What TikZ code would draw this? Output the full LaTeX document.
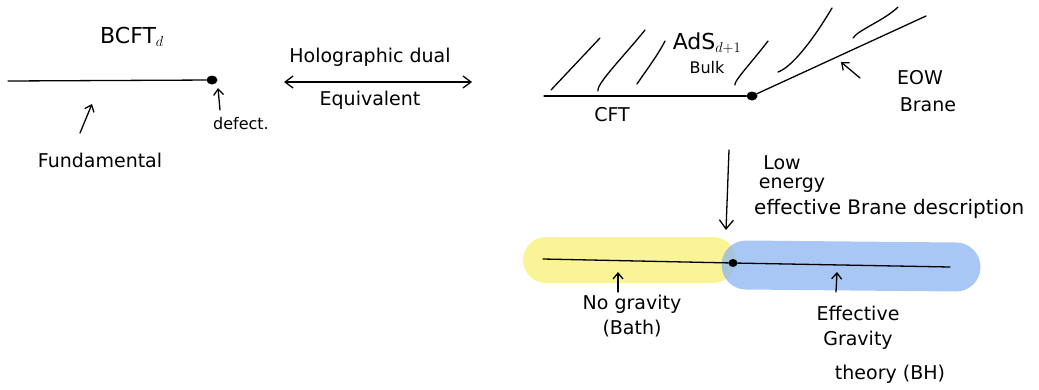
\documentclass[tikz,border=0pt]{standalone}
\usepackage{fontspec}
\setmainfont{DejaVu Sans}
\usetikzlibrary{arrows.meta,shapes.geometric}
\definecolor{bandyellow}{RGB}{250,244,150}
\definecolor{bandblue}{RGB}{140,180,240}
\tikzset{
  lab/.style={font=\fontsize{19}{22}\selectfont, inner sep=1pt},
  biglab/.style={font=\fontsize{22}{25}\selectfont, inner sep=1pt},
  smalllab/.style={font=\fontsize{16}{18}\selectfont, inner sep=1pt},
  pen/.style={line width=1.3pt, line cap=round},
  dotnode/.style={ellipse, fill=black, inner sep=0pt, minimum width=11pt, minimum height=9pt},
  tip/.style={-{Straight Barb[length=6pt,width=10pt]}},
  band/.style={line width=46pt, line cap=round},
}
\begin{document}
\begin{tikzpicture}[x=1pt,y=-1pt]
\useasboundingbox (0,0) rectangle (1039,389);
% ---------- left: BCFT ----------
\coordinate (l0) at (8,81);
\node[dotnode] (ldot) at (212,80) {};
\draw[pen] (l0) -- (ldot);
\node[biglab] (bcft) at (132,37) {BCFT$_{d}$};
\node[lab] (fund) at (100,160) {Fundamental};
\coordinate (fa0) at (80,133);
\coordinate (fa1) at (92,104);
\draw[pen,tip] (fa0) -- (fa1);
\node[smalllab] (defect) at (241,124) {defect.};
\coordinate (da0) at (220,110);
\coordinate (da1) at (218,88);
\draw[pen,tip] (da0) -- (da1);
% ---------- duality arrow ----------
\coordinate (h0) at (284,82);
\coordinate (h1) at (472,82);
\draw[pen,{Straight Barb[length=8pt,width=12pt]}-{Straight Barb[length=8pt,width=12pt]}] (h0) -- (h1);
\node[lab] (holo) at (370,57) {Holographic dual};
\node[lab] (equiv) at (370,100) {Equivalent};
% ---------- right top: AdS ----------
\coordinate (c0) at (544,96);
\node[dotnode] (rdot) at (752,96) {};
\coordinate (b1) at (926,16);
\draw[pen] (c0) -- (rdot);
\draw[pen] (rdot) -- (b1);
\coordinate (s1a) at (551,90); \coordinate (s1b) at (600,38);
\coordinate (s2a) at (598,91); \coordinate (s2b) at (645,30);
\coordinate (s3a) at (637,84); \coordinate (s3b) at (665,41);
\coordinate (s4a) at (735,85); \coordinate (s4b) at (768,41);
\coordinate (s5a) at (778,72); \coordinate (s5b) at (832,8);
\coordinate (s6a) at (853,38); \coordinate (s6b) at (898,7);
\draw[pen] (s1a) -- (s1b);
\draw[pen] (s2a) .. controls (596,84) and (625,55) .. (s2b);
\draw[pen] (s3a) .. controls (645,72) and (658,55) .. (s3b);
\draw[pen] (s4a) .. controls (733,82) and (752,62) .. (s4b);
\draw[pen] (s5a) .. controls (790,68) and (810,45) .. (s5b);
\draw[pen] (s6a) .. controls (858,30) and (885,20) .. (s6b);
\node[biglab] (ads) at (707,43) {AdS$_{d+1}$};
\node[smalllab] (bulk) at (707,68) {Bulk};
\node[lab] (cft) at (612,115) {CFT};
\coordinate (ea0) at (860,78);
\coordinate (ea1) at (841,62);
\draw[pen,tip] (ea0) -- (ea1);
\node[lab] (eow) at (920,78) {EOW};
\node[lab] (brane) at (928,105) {Brane};
% ---------- down arrow ----------
\coordinate (d0) at (729,150);
\coordinate (d1) at (726,230);
\draw[pen,{Straight Barb[length=9pt,width=14pt]}-] (d1) -- (d0);
\node[lab] (low) at (782,163) {Low};
\node[lab] (energy) at (792,185) {energy};
\node[lab,anchor=west,font=\fontsize{20}{23}\selectfont] (ebd) at (753,209) {effective Brane description};
% ---------- bottom bar ----------
\coordinate (y0) at (546,260);
\coordinate (y1) at (713,260);
\coordinate (bb0) at (746,265);
\coordinate (bb1) at (956,267);
\draw[band, bandyellow] (y0) -- (y1);
\draw[band, bandblue, opacity=0.75, line width=49pt] (bb0) -- (bb1);
\coordinate (m0) at (543,259);
\node[dotnode, minimum width=9pt, minimum height=8pt] (mdot) at (733,263) {};
\coordinate (m1) at (950,267);
\draw[pen] (m0) -- (mdot);
\draw[pen] (mdot) -- (m1);
\coordinate (na0) at (618,292);
\coordinate (na1) at (618,272);
\draw[pen,tip] (na0) -- (na1);
\node[lab] (nograv) at (632,304) {No gravity};
\node[lab] (bath) at (632,329) {(Bath)};
\coordinate (ga0) at (836,292);
\coordinate (ga1) at (837,272);
\draw[pen,tip] (ga0) -- (ga1);
\node[lab] (effg) at (858,313) {Effective};
\node[lab] (grav) at (858,340) {Gravity};
\node[lab] (theory) at (890,374) {theory (BH)};
\end{tikzpicture}
\end{document}
